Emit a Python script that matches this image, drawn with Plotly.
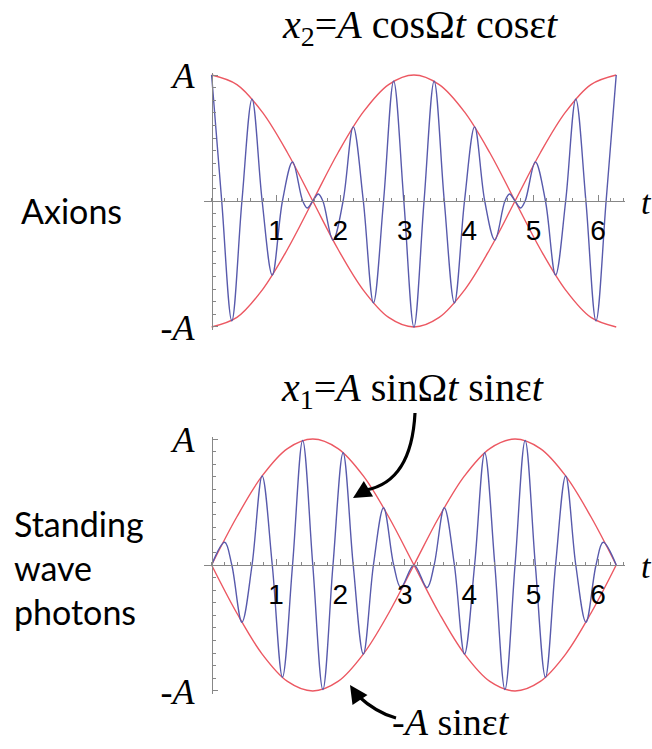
import plotly.graph_objects as go

W, H = 652, 749

# ---------------- data ----------------
# top panel: x2 = A cos(Omega t) cos(eps t), extrema and zero crossings
t_top = [0, 0.157, 0.314, 0.471, 0.628, 0.785, 0.942, 1.100, 1.257, 1.414,
         1.485, 1.571, 1.657, 1.728, 1.885, 2.042, 2.199, 2.356, 2.513, 2.670,
         2.827, 2.985, 3.142, 3.299, 3.456, 3.613, 3.770, 3.927, 4.084, 4.241,
         4.398, 4.555, 4.626, 4.712, 4.798, 4.869, 5.027, 5.184, 5.341, 5.498,
         5.655, 5.812, 5.969, 6.126, 6.283]
x2_top = [1.0, 0, -0.951, 0, 0.809, 0, -0.588, 0, 0.309, 0,
          -0.056, 0, 0.056, 0, -0.309, 0, 0.588, 0, -0.809, 0,
          0.951, 0, -1.0, 0, 0.951, 0, -0.809, 0, 0.588, 0,
          -0.309, 0, 0.056, 0, -0.056, 0, 0.309, 0, -0.588, 0,
          0.809, 0, -0.951, 0, 1.0]

# bottom panel: x1 = A sin(Omega t) sin(eps t)
t_bot = [0, 0.203, 0.314, 0.471, 0.628, 0.785, 0.942, 1.100, 1.257, 1.414,
         1.571, 1.728, 1.885, 2.042, 2.199, 2.356, 2.513, 2.670, 2.827, 2.939,
         3.142, 3.345, 3.456, 3.613, 3.770, 3.927, 4.084, 4.241, 4.398, 4.555,
         4.712, 4.869, 5.027, 5.184, 5.341, 5.498, 5.655, 5.812, 5.969, 6.080,
         6.283]
x1_bot = [0, 0.18, 0, -0.454, 0, 0.707, 0, -0.891, 0, 0.988,
          0, -0.988, 0, 0.891, 0, -0.707, 0, 0.454, 0, -0.18,
          0, -0.18, 0, 0.454, 0, -0.707, 0, 0.891, 0, -0.988,
          0, 0.988, 0, -0.891, 0, 0.707, 0, -0.454, 0, 0.18,
          0]

# envelopes
t_env = [0, 0.393, 0.785, 1.178, 1.571, 1.963, 2.356, 2.749, 3.142,
         3.534, 3.927, 4.320, 4.712, 5.105, 5.498, 5.890, 6.283]
cos_env = [1, 0.924, 0.707, 0.383, 0, -0.383, -0.707, -0.924, -1,
           -0.924, -0.707, -0.383, 0, 0.383, 0.707, 0.924, 1]
sin_env = [0, 0.383, 0.707, 0.924, 1, 0.924, 0.707, 0.383, 0,
           -0.383, -0.707, -0.924, -1, -0.924, -0.707, -0.383, 0]

x_tick_vals = [1, 2, 3, 4, 5, 6]
x_tick_text = ["1", "2", "3", "4", "5", "6"]
y_tick_vals = [-1, 1]
y_tick_text = ["<i>-A</i>", "<i>A</i>"]

# ---------------- styling ----------------
BLUE = "rgb(88,90,172)"
RED = "rgb(236,88,98)"
AXC = "rgb(135,135,135)"
SERIF = "Liberation Serif, Times New Roman, serif"
SANS = "Liberation Sans, Arial, sans-serif"


def px(x):
    return x / W


def py(y):
    return 1 - y / H


X0 = 211.6          # pixel of t = 0
SX = 64.4           # pixels per unit t
XMIN, XMAX = -0.12, 6.42
xdom = [px(X0 + XMIN * SX), px(X0 + XMAX * SX)]

fig = go.Figure()

line_b = dict(color=BLUE, width=1.4, shape="spline", smoothing=1)
line_r = dict(color=RED, width=1.4, shape="spline", smoothing=1)

# top panel
fig.add_trace(go.Scatter(x=t_env, y=cos_env, mode="lines", line=line_r, xaxis="x", yaxis="y"))
fig.add_trace(go.Scatter(x=t_env, y=[-v for v in cos_env], mode="lines", line=line_r, xaxis="x", yaxis="y"))
fig.add_trace(go.Scatter(x=t_top, y=x2_top, mode="lines", line=line_b, xaxis="x", yaxis="y"))
# bottom panel
fig.add_trace(go.Scatter(x=t_env, y=sin_env, mode="lines", line=line_r, xaxis="x2", yaxis="y2"))
fig.add_trace(go.Scatter(x=t_env, y=[-v for v in sin_env], mode="lines", line=line_r, xaxis="x2", yaxis="y2"))
fig.add_trace(go.Scatter(x=t_bot, y=x1_bot, mode="lines", line=line_b, xaxis="x2", yaxis="y2"))


def xax(pos_px):
    return dict(domain=xdom, range=[XMIN, XMAX], anchor="free", position=py(pos_px),
                showline=True, linecolor=AXC, linewidth=1, showgrid=False, zeroline=False,
                ticks="inside", ticklen=6, tickcolor=AXC, tickwidth=1,
                tickvals=x_tick_vals, ticktext=x_tick_text,
                tickfont=dict(family=SANS, size=28, color="black"),
                ticklabelstandoff=4, automargin=False,
                minor=dict(dtick=0.2, tick0=0, ticks="inside", ticklen=3, tickcolor=AXC),
                fixedrange=True)


def yax(top_px, bot_px):
    return dict(domain=[py(bot_px), py(top_px)], range=[-1.02, 1.02], anchor="free",
                position=px(X0), showline=True, linecolor=AXC, linewidth=1,
                showgrid=False, zeroline=False,
                ticks="inside", ticklen=5, tickcolor=AXC,
                tickvals=y_tick_vals, ticktext=y_tick_text,
                tickfont=dict(family=SERIF, size=36, color="black"),
                ticklabelstandoff=10, automargin=False,
                minor=dict(dtick=0.1, tick0=0, ticks="inside", ticklen=3, tickcolor=AXC),
                fixedrange=True)


fig.update_layout(
    width=W, height=H, margin=dict(l=0, r=0, t=0, b=0, autoexpand=False),
    paper_bgcolor="white", plot_bgcolor="rgba(0,0,0,0)", showlegend=False,
    xaxis=xax(201), yaxis=yax(72.5, 329.5),
    xaxis2=xax(565), yaxis2=yax(436.5, 693.5),
)

ann = []


def text(x, y, s, size, family=SERIF, xanchor="center", align="center"):
    ann.append(dict(x=px(x), y=py(y), xref="paper", yref="paper", text=s, showarrow=False,
                    xanchor=xanchor, yanchor="middle", align=align,
                    font=dict(family=family, size=size, color="black")))


text(420, 27, "<i>x</i><sub>2</sub>=<i>A</i> cosΩ<i>t</i> cosε<i>t</i>", 40)
text(412, 390, "<i>x</i><sub>1</sub>=<i>A</i> sinΩ<i>t</i> sinε<i>t</i>", 40)
text(451, 722, "-<i>A</i> sinε<i>t</i>", 38)
text(646, 202, "<i>t</i>", 34)
text(646, 566, "<i>t</i>", 34)
text(71, 210, "Axions", 34, family="Lato")
text(12, 567, "Standing<br>wave<br>photons", 34, family="Lato", xanchor="left", align="left")

# arrowheads
for (hx, hy, tx, ty) in [(353, 498, 368, 489), (350, 685, 358, 697)]:
    ann.append(dict(x=px(hx), y=py(hy), xref="paper", yref="paper", text="",
                    showarrow=True, arrowhead=2, arrowsize=1.2, arrowwidth=3,
                    arrowcolor="black", ax=tx - hx, ay=ty - hy, axref="pixel", ayref="pixel"))

fig.update_layout(annotations=ann)

shapes = []


def curve(sx, sy, cx, cy, ex, ey):
    path = f"M {px(sx)},{py(sy)} Q {px(cx)},{py(cy)} {px(ex)},{py(ey)}"
    shapes.append(dict(type="path", xref="paper", yref="paper", path=path,
                       line=dict(color="black", width=3.2)))


curve(415, 413, 411.5, 481.5, 366, 490)
curve(396, 718, 376.5, 713, 357, 695)
fig.update_layout(shapes=shapes)

fig.write_html("out.html")
